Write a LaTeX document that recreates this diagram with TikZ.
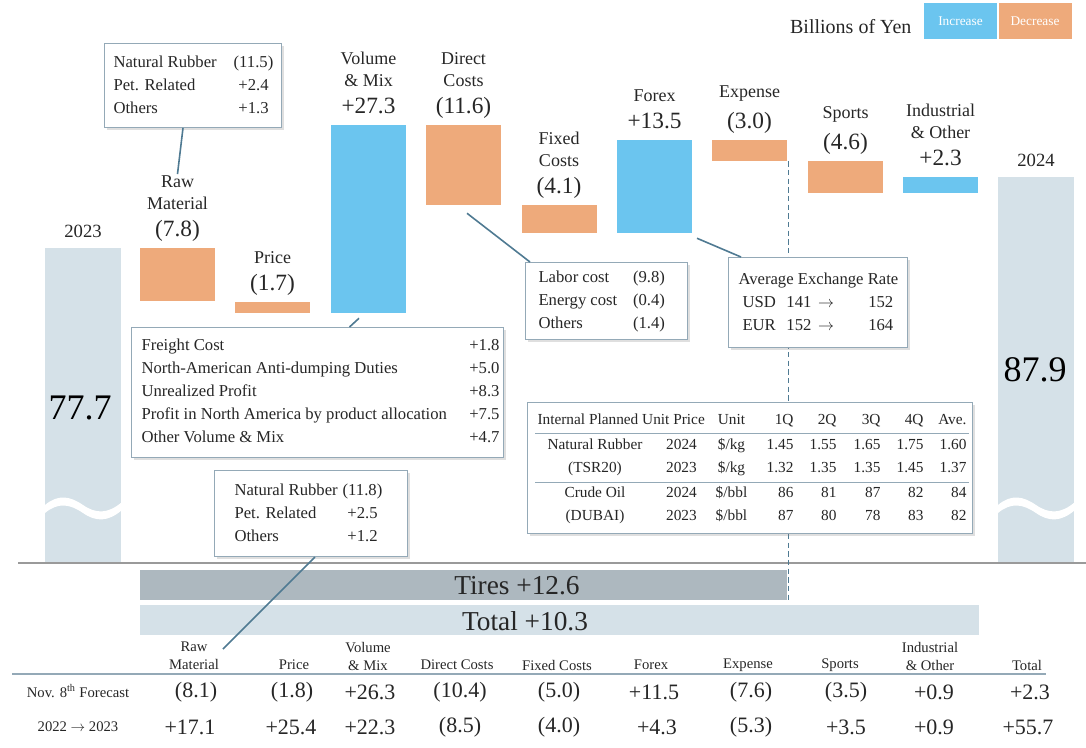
\documentclass[tikz,border=0pt]{standalone}
\usepackage{fontspec}
\usepackage{array}
\setmainfont{Liberation Serif}
\usetikzlibrary{positioning,calc,shadows}
\definecolor{incblue}{HTML}{6BC5EF}
\definecolor{decorange}{HTML}{EEAA7B}
\definecolor{basegray}{HTML}{D5E1E8}
\definecolor{tiregray}{HTML}{ADB8BF}
\definecolor{boxline}{HTML}{94A9B7}
\definecolor{leadline}{HTML}{4F7A92}
\definecolor{axisgray}{HTML}{9A9A9A}
\definecolor{inkgray}{HTML}{262626}
\newcommand{\fs}[2]{\fontsize{#1}{#2}\selectfont}
\newcommand{\toarrow}{\ensuremath{\rightarrow}}
\newcolumntype{C}[1]{>{\centering\arraybackslash}p{#1}}
\newcolumntype{R}[1]{>{\raggedleft\arraybackslash}p{#1}}
\setlength{\tabcolsep}{0pt}
\tikzset{
  bar/.style={rectangle, inner sep=0pt, minimum width=56.25pt},
  barh/.style={minimum height={#1*0.75pt}},
  incbar/.style={bar, fill=incblue},
  decbar/.style={bar, fill=decorange},
  basebar/.style={bar, fill=basegray, minimum width=57pt},
  catlabel/.style={inner sep=1pt, align=center, text=inkgray, font=\fs{13.5}{16.5}},
  amtlabel/.style={inner sep=1pt, text=inkgray, text height=13pt, text depth=4pt, font=\fs{17.5}{20}},
  callout/.style={rectangle, draw=boxline, fill=white, line width=0.75pt,
    inner xsep=0pt, inner ysep=#1, text=inkgray, font=\fs{12.5}{17.25},
    drop shadow={shadow xshift=2pt, shadow yshift=-2pt, opacity=0.25}},
  callout/.default=5pt,
  lead/.style={draw=leadline, line width=1.2pt},
  legbox/.style={rectangle, inner sep=0pt, minimum width=54.75pt, minimum height=27pt,
    text=white, font=\fs{10}{12}},
  hdr/.style={inner sep=0pt, align=center, text=inkgray, font=\fs{11}{13.5}},
  val/.style={inner sep=0pt, text=inkgray, font=\fs{16.5}{20}},
}
\begin{document}
\begin{tikzpicture}[x=0.75pt, y=-0.75pt]
\useasboundingbox (0,0) rectangle (1086,747);

% legend
\node[legbox, fill=incblue] (leginc) at (960.5,21) {Increase};
\node[legbox, fill=decorange, right=0.75pt of leginc] (legdec) {Decrease};
\node[inner sep=0pt, anchor=east, text=inkgray, font=\fs{15}{18}] (unitnote)
  at ($(leginc.west)+(-12,6)$) {Billions of Yen};

% start and end bars
\node[basebar, barh=314] (y23) at (83,405) {};
\node[catlabel, font=\fs{14}{16}, above=6pt of y23] (y23l) {2023};
\node[inner sep=0pt, font=\fs{27}{30}] (y23v) at (80,408) {77.7};
\node[basebar, barh=385] (y24) at (1036,369.5) {};
\node[catlabel, font=\fs{14}{16}, above=6pt of y24] (y24l) {2024};
\node[inner sep=0pt, font=\fs{27}{30}] (y24v) at (1035,370) {87.9};
\foreach \bx in {45,998}
  \fill[white] (\bx,505) .. controls (\bx+13,494) and (\bx+25,496) .. (\bx+38,505)
    .. controls (\bx+51,514) and (\bx+63,514) .. (\bx+77,502) -- (\bx+77,510)
    .. controls (\bx+63,522) and (\bx+51,522) .. (\bx+38,513)
    .. controls (\bx+25,504) and (\bx+13,502) .. (\bx,513) -- cycle;

% steps
\node[decbar, barh=53] (raw) at (177.5,274.5) {};
\node[amtlabel, above=3pt of raw] (rawv) {(7.8)};
\node[catlabel, above=5pt of rawv] (rawl) {Raw\\Material};

\node[decbar, barh=11] (price) at (272.5,307.5) {};
\node[amtlabel, above=3pt of price] (pricev) {(1.7)};
\node[catlabel, above=5pt of pricev] (pricel) {Price};

\node[incbar, barh=188] (vol) at (368.5,219) {};
\node[amtlabel, above=3pt of vol] (volv) {+27.3};
\node[catlabel, above=5pt of volv] (voll) {Volume\\\& Mix};

\node[decbar, barh=80] (direct) at (463.5,165) {};
\node[amtlabel, above=3pt of direct] (directv) {(11.6)};
\node[catlabel, above=5pt of directv] (directl) {Direct\\Costs};

\node[decbar, barh=28] (fixed) at (559,219) {};
\node[amtlabel, above=3pt of fixed] (fixedv) {(4.1)};
\node[catlabel, above=5pt of fixedv] (fixedl) {Fixed\\Costs};

\node[incbar, barh=93] (forex) at (654.5,186.5) {};
\node[amtlabel, above=3pt of forex] (forexv) {+13.5};
\node[catlabel, above=5pt of forexv] (forexl) {Forex};

\node[decbar, barh=21] (expense) at (749.5,150.5) {};
\node[amtlabel, above=3pt of expense] (expensev) {(3.0)};
\node[catlabel, above=5pt of expensev] (expensel) {Expense};

\node[decbar, barh=32] (sports) at (845.5,177) {};
\node[amtlabel, above=3pt of sports] (sportsv) {(4.6)};
\node[catlabel, above=5pt of sportsv] (sportsl) {Sports};

\node[incbar, barh=16] (indus) at (940.5,185) {};
\node[amtlabel, above=3pt of indus] (indusv) {+2.3};
\node[catlabel, above=5pt of indusv] (indusl) {Industrial\\\& Other};

% baseline and totals
\draw[axisgray, line width=1.5pt] (18,563) -- (1086,563);
\node[rectangle, fill=tiregray, inner sep=0pt, minimum width={647*0.75pt},
  minimum height={30*0.75pt}] (tires) at (463.5,585) {};
\node[inner sep=0pt, text=inkgray, font=\fs{20.5}{24}] (tirest) at (517,586) {Tires +12.6};
\node[rectangle, fill=basegray, inner sep=0pt, minimum width={839*0.75pt},
  minimum height={30*0.75pt}] (total) at (559.5,620) {};
\node[inner sep=0pt, text=inkgray, font=\fs{20.5}{24}] (totalt) at (525,621) {Total +10.3};
\draw[leadline, line width=1pt, dash pattern=on 4pt off 2.5pt]
  ($(expense.south east)+(1,0)$) -- ($(tires.south east)+(1,0)$);

% callouts
\node[callout=5.6pt, anchor=north west] (rmbox) at (104,43) {%
  \begin{tabular}{@{\hspace{6.75pt}}p{86.25pt}@{}C{37.5pt}@{\hspace{2.25pt}}}
  Natural Rubber & (11.5)\\
  Pet. Related & +2.4\\
  Others & +1.3
  \end{tabular}};

\node[callout=5.5pt, anchor=north west] (vmbox) at (131,327) {%
  \begin{tabular}{@{\hspace{7.5pt}}p{231pt}@{}R{37.5pt}@{\hspace{3pt}}}
  Freight Cost & +1.8\\
  North-American Anti-dumping Duties & +5.0\\
  Unrealized Profit & +8.3\\
  Profit in North America by product allocation & +7.5\\
  Other Volume \& Mix & +4.7
  \end{tabular}};

\node[callout=3pt, anchor=north west] (fcbox) at (525,262) {%
  \begin{tabular}{@{\hspace{9.75pt}}p{69pt}@{}C{27.75pt}@{\hspace{15pt}}}
  Labor cost & (9.8)\\
  Energy cost & (0.4)\\
  Others & (1.4)
  \end{tabular}};

\node[callout=7.9pt, anchor=north west] (fxbox) at (728,257) {%
  \begin{tabular}{@{\hspace{7.5pt}}p{36pt}@{}p{54pt}@{}r@{\hspace{10.5pt}}}
  \multicolumn{3}{@{\hspace{7.5pt}}l@{\hspace{6.75pt}}}{Average Exchange Rate}\\
  \hspace{3pt}USD & 141\hspace{5pt}\toarrow & 152\\
  \hspace{3pt}EUR & 152\hspace{5pt}\toarrow & 164
  \end{tabular}};

\node[callout=4.5pt, anchor=north west, font=\fs{11.5}{17.25}] (plan) at (527,402) {%
  \begin{tabular}{@{\hspace{7.5pt}}C{86.25pt}C{43.5pt}C{31.5pt}R{30.75pt}R{32.25pt}R{33pt}R{32.25pt}R{32.25pt}@{\hspace{4.5pt}}}
  \multicolumn{2}{@{\hspace{7.5pt}}l}{Internal Planned Unit Price} & Unit & 1Q & 2Q & 3Q & 4Q & Ave.\\[1.5pt]
  Natural Rubber & 2024 & \$/kg & 1.45 & 1.55 & 1.65 & 1.75 & 1.60\\
  (TSR20) & 2023 & \$/kg & 1.32 & 1.35 & 1.35 & 1.45 & 1.37\\[1.5pt]
  Crude Oil & 2024 & \$/bbl & 86 & 81 & 87 & 82 & 84\\
  (DUBAI) & 2023 & \$/bbl & 87 & 80 & 78 & 83 & 82
  \end{tabular}};
\draw[boxline, line width=0.75pt] ($(plan.north west)+(8,31)$) -- ($(plan.north east)+(-4,31)$);
\draw[boxline, line width=0.75pt] ($(plan.north west)+(8,80)$) -- ($(plan.north east)+(-4,80)$);

\node[callout=6.4pt, anchor=north west] (nrbox) at (214,470) {%
  \begin{tabular}{@{\hspace{15pt}}p{81pt}@{}C{30pt}@{\hspace{18.75pt}}}
  Natural Rubber & (11.8)\\
  Pet. Related & +2.5\\
  Others & +1.2
  \end{tabular}};

% bottom table
\draw[boxline, line width=1.5pt] (12,674) -- (1046,674);
\node[hdr] (hraw) at (194,656) {Raw\\Material};
\node[hdr] (hprice) at (294,665) {Price};
\node[hdr] (hvol) at (368,656) {Volume\\\& Mix};
\node[hdr] (hdirect) at (457,665) {Direct Costs};
\node[hdr] (hfixed) at (557,665) {Fixed Costs};
\node[hdr] (hforex) at (651,665) {Forex};
\node[hdr] (hexpense) at (748,665) {Expense};
\node[hdr] (hsports) at (840,665) {Sports};
\node[hdr] (hindus) at (930,656) {Industrial\\\& Other};
\node[hdr] (htotal) at (1027,665) {Total};

\node[hdr] (rnov) at (78,691) {Nov. 8\textsuperscript{th} Forecast};
\node[val] (nraw) at (196,692) {(8.1)};
\node[val] (nprice) at (292,692) {(1.8)};
\node[val] (nvol) at (370,692) {+26.3};
\node[val] (ndirect) at (460,692) {(10.4)};
\node[val] (nfixed) at (559,692) {(5.0)};
\node[val] (nforex) at (654,692) {+11.5};
\node[val] (nexpense) at (751,692) {(7.6)};
\node[val] (nsports) at (846,692) {(3.5)};
\node[val] (nindus) at (934,692) {+0.9};
\node[val] (ntotal) at (1030,692) {+2.3};

\node[hdr] (rprev) at (78,727) {2022 \toarrow{} 2023};
\node[val] (praw) at (190,727) {+17.1};
\node[val] (pprice) at (291,727) {+25.4};
\node[val] (pvol) at (370,727) {+22.3};
\node[val] (pdirect) at (460,727) {(8.5)};
\node[val] (pfixed) at (559,727) {(4.0)};
\node[val] (pforex) at (657,727) {+4.3};
\node[val] (pexpense) at (751,727) {(5.3)};
\node[val] (psports) at (846,727) {+3.5};
\node[val] (pindus) at (934,727) {+0.9};
\node[val] (ptotal) at (1028,727) {+55.7};

% leads
\coordinate (nrend) at (223,649);
\draw[lead] ($(rmbox.south)+(-10,0)$) -- (rawl.north);
\draw[lead] ($(vol.south)+(-9.5,5)$) -- ($(vmbox.north)+(32,0)$);
\draw[lead] ($(direct.south)+(3.5,8)$) -- ($(fcbox.north west)+(5,0)$);
\draw[lead] ($(forex.south)+(42.5,5)$) -- ($(fxbox.north west)+(13,0)$);
\draw[lead] ($(nrbox.south)+(4,0)$) -- (nrend);

\end{tikzpicture}
\end{document}
